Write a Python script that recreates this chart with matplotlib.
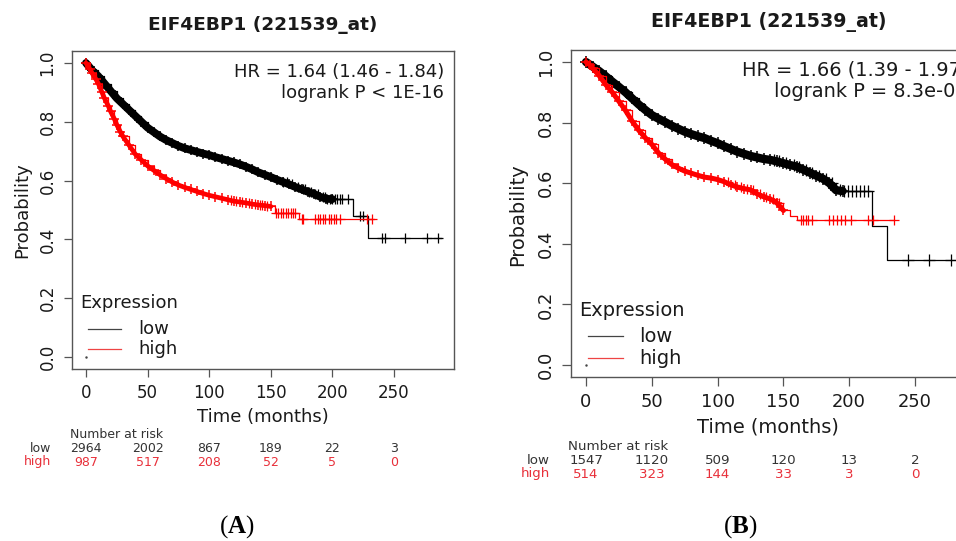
import numpy as np
import matplotlib
matplotlib.use("Agg")
import matplotlib.pyplot as plt
from matplotlib.lines import Line2D
from matplotlib.transforms import blended_transform_factory

plt.rcParams['font.family'] = ['DejaVu Sans']
plt.rcParams['mathtext.fontset'] = 'custom'
plt.rcParams['mathtext.rm'] = 'Liberation Serif'
plt.rcParams['mathtext.bf'] = 'Liberation Serif:bold'

# ---------------- data ----------------
title = "EIF4EBP1 (221539_at)"
risk_times = [0, 50, 100, 150, 200, 250]

# Panel A
a_low_t = [0, 3, 5, 10, 15, 20, 25, 30, 35, 40, 45, 50, 55, 60, 65, 70, 75, 80, 85, 90, 95,
           100, 105, 110, 115, 120, 125, 130, 135, 140, 145, 150, 155, 160, 165, 170, 175,
           180, 185, 190, 195, 200, 205, 210, 217, 229, 288]
a_low_s = [1.0, 0.985, 0.975, 0.955, 0.93, 0.905, 0.88, 0.86, 0.84, 0.82, 0.80, 0.78, 0.765,
           0.75, 0.738, 0.728, 0.718, 0.71, 0.704, 0.698, 0.692, 0.687, 0.68, 0.674, 0.668,
           0.662, 0.655, 0.647, 0.638, 0.628, 0.62, 0.612, 0.603, 0.595, 0.587, 0.578, 0.57,
           0.562, 0.555, 0.545, 0.538, 0.537, 0.537, 0.537, 0.48, 0.405, 0.405]
a_low_cens = [160, 163, 167, 172, 176, 178, 181, 183, 186, 188, 192, 194, 196, 198, 200, 202,
              204, 206, 208, 213, 222, 225, 240, 243, 259, 277, 286]

a_high_t = [0, 3, 5, 8, 10, 13, 15, 18, 20, 23, 25, 28, 30, 35, 40, 45, 50, 55, 60, 65, 70,
            75, 80, 85, 90, 95, 100, 105, 110, 115, 120, 125, 130, 135, 140, 145, 150, 153,
            173, 234]
a_high_s = [1.0, 0.98, 0.965, 0.945, 0.93, 0.90, 0.88, 0.855, 0.835, 0.81, 0.79, 0.765, 0.75,
            0.72, 0.69, 0.67, 0.65, 0.635, 0.62, 0.607, 0.595, 0.585, 0.577, 0.57, 0.563,
            0.556, 0.55, 0.545, 0.54, 0.535, 0.53, 0.527, 0.524, 0.52, 0.517, 0.515, 0.512,
            0.49, 0.468, 0.468]
a_high_cens = [118, 122, 127, 132, 137, 141, 143, 147, 154, 156, 158, 160, 162, 164, 166, 168,
               170, 175, 176, 186, 188, 190, 192, 194, 197, 199, 201, 203, 206, 228, 232]

a_hr = "HR = 1.64 (1.46 - 1.84)"
a_p = "logrank P < 1E-16"
a_risk_low = ["2964", "2002", "867", "189", "22", "3"]
a_risk_high = ["987", "517", "208", "52", "5", "0"]

# Panel B
b_low_t = [0, 5, 10, 15, 20, 25, 30, 35, 40, 45, 50, 55, 60, 65, 70, 75, 80, 85, 90, 95, 100,
           105, 110, 115, 120, 125, 130, 135, 140, 145, 150, 155, 160, 165, 170, 175, 180,
           185, 190, 195, 217, 229, 290]
b_low_s = [1.0, 0.985, 0.97, 0.953, 0.935, 0.918, 0.9, 0.88, 0.86, 0.842, 0.825, 0.813, 0.802,
           0.79, 0.78, 0.77, 0.762, 0.755, 0.749, 0.74, 0.732, 0.722, 0.713, 0.704, 0.697,
           0.69, 0.685, 0.68, 0.677, 0.672, 0.666, 0.66, 0.655, 0.645, 0.635, 0.625, 0.615,
           0.60, 0.577, 0.574, 0.46, 0.347, 0.347]
b_low_cens = [143, 147, 152, 158, 162, 167, 172, 177, 182, 187, 193, 196, 199, 202, 205, 208,
              211, 214, 245, 261, 277, 288]

b_high_t = [0, 3, 5, 10, 15, 20, 25, 30, 35, 40, 45, 50, 55, 60, 65, 70, 75, 80, 85, 90, 95,
            100, 105, 110, 115, 120, 125, 130, 135, 140, 145, 150, 155, 160, 234]
b_high_s = [1.0, 0.99, 0.98, 0.955, 0.925, 0.9, 0.87, 0.84, 0.805, 0.775, 0.75, 0.728, 0.70,
            0.68, 0.662, 0.65, 0.64, 0.633, 0.626, 0.62, 0.617, 0.612, 0.605, 0.595, 0.587,
            0.582, 0.578, 0.565, 0.555, 0.548, 0.535, 0.51, 0.492, 0.478, 0.478]
b_high_cens = [108, 113, 118, 122, 127, 132, 137, 142, 147, 163, 165, 167, 169, 172, 185, 188,
               191, 194, 197, 201, 214, 218, 234]

b_hr = "HR = 1.66 (1.39 - 1.97)"
b_p = "logrank P = 8.3e-09"
b_risk_low = ["1547", "1120", "509", "120", "13", "2"]
b_risk_high = ["514", "323", "144", "33", "3", "0"]

# ---------------- drawing ----------------
W, H = 956, 541
fig = plt.figure(figsize=(W / 100, H / 100), dpi=100)

RED = '#ff0000'
RISK_RED = '#e8303a'
FRAME = '#555555'
TXT = '#1a1a1a'


def fx(x):
    return x / W


def fy(y):
    return 1 - y / H


def px_axes(l, r, t, b):
    return fig.add_axes([l / W, 1 - b / H, (r - l) / W, (b - t) / H])


def surv_at(t_arr, s_arr, tc):
    t_arr = np.asarray(t_arr)
    s_arr = np.asarray(s_arr)
    idx = np.searchsorted(t_arr, tc, side='right') - 1
    return s_arr[idx]


def km(ax, t, s, cens, color, dense_end, band_lw, ms):
    t = np.asarray(t)
    s = np.asarray(s)
    ax.plot(t, s, drawstyle='steps-post', color=color, lw=0.9, zorder=3)
    m = t <= dense_end
    ax.plot(t[m], s[m], color=color, lw=band_lw, solid_capstyle='round', zorder=3)
    ax.plot(t[m], s[m], ls='none', marker='+', color=color, ms=ms, mew=1.1, zorder=3)
    cens = np.asarray(cens)
    ax.plot(cens, surv_at(t, s, cens), ls='none', marker='+', color=color, ms=ms, mew=0.9,
            zorder=3)


def panel(ax, sc, low, high, hr, p, title_xy, xlabel_xy, ylabel_xy, leg):
    fs = 13 * sc
    ax.set_xlim(-11.5, 298.5)
    ax.set_ylim(-0.04, 1.04)
    for sp in ax.spines.values():
        sp.set_color(FRAME)
        sp.set_linewidth(1.0)
    ax.set_xticks(risk_times)
    ax.set_yticks([0, 0.2, 0.4, 0.6, 0.8, 1.0])
    ax.set_yticklabels(['0.0', '0.2', '0.4', '0.6', '0.8', '1.0'], rotation=90, va='center')
    ax.tick_params(direction='out', length=6 * sc, width=0.9, color=FRAME, labelsize=12 * sc,
                   labelcolor=TXT)
    ax.tick_params(axis='x', pad=5 * sc)
    ax.tick_params(axis='y', pad=5 * sc)
    km(ax, *low, 'black', 200, 5.6 * sc, 7.5 * sc)
    km(ax, *high, RED, 150, 3.4 * sc, 7.0 * sc)
    ax.plot([0], [0], ls='none', marker='.', ms=1.5, color='#444444')
    # HR text
    blend_r = blended_transform_factory(ax.transAxes, fig.transFigure)
    ax.text(0.974, fy(title_xy[2][0]), hr, transform=blend_r, ha='right', va='center',
            fontsize=fs, color=TXT, clip_on=False)
    ax.text(0.974, fy(title_xy[2][1]), p, transform=blend_r, ha='right', va='center',
            fontsize=fs, color=TXT, clip_on=False)
    # title
    fig.text(fx(title_xy[0]), fy(title_xy[1]), title, ha='center', va='center',
             fontsize=title_xy[3], fontweight='bold', color=TXT)
    # axis labels
    fig.text(fx(xlabel_xy[0]), fy(xlabel_xy[1]), 'Time (months)', ha='center', va='center',
             fontsize=fs, color=TXT)
    fig.text(fx(ylabel_xy[0]), fy(ylabel_xy[1]), 'Probability', ha='center', va='center',
             rotation=90, fontsize=fs, color=TXT)
    # legend (manual, R style)
    tx, ty, lx0, lx1, y_low, y_high, txt_x = leg
    fig.text(fx(tx), fy(ty), 'Expression', ha='left', va='center', fontsize=fs, color=TXT)
    fig.add_artist(Line2D([fx(lx0), fx(lx1)], [fy(y_low), fy(y_low)], color='#444444',
                          lw=0.9, transform=fig.transFigure))
    fig.add_artist(Line2D([fx(lx0), fx(lx1)], [fy(y_high), fy(y_high)], color='#ee4444',
                          lw=0.9, transform=fig.transFigure))
    fig.text(fx(txt_x), fy(y_low), 'low', ha='left', va='center', fontsize=fs, color=TXT)
    fig.text(fx(txt_x), fy(y_high), 'high', ha='left', va='center', fontsize=fs, color=TXT)


def risk_table(ax, sc, risk_low, risk_high, rows_y, label_x, head_x):
    fs = 9 * sc
    blend = blended_transform_factory(ax.transData, fig.transFigure)
    fig.text(fx(head_x), fy(rows_y[0]), 'Number at risk', ha='center', va='center',
             fontsize=fs, color='#333333')
    fig.text(fx(label_x), fy(rows_y[1]), 'low', ha='right', va='center', fontsize=fs,
             color='#333333')
    fig.text(fx(label_x), fy(rows_y[2]), 'high', ha='right', va='center', fontsize=fs,
             color=RISK_RED)
    for tt, lo, hi in zip(risk_times, risk_low, risk_high):
        ax.text(tt, fy(rows_y[1]), lo, transform=blend, ha='center', va='center',
                fontsize=fs, color='#333333', clip_on=False)
        ax.text(tt, fy(rows_y[2]), hi, transform=blend, ha='center', va='center',
                fontsize=fs, color=RISK_RED, clip_on=False)


# Panel A axes
axA = px_axes(71.8, 453.8, 51.2, 368.8)
panel(axA, 1.0, (a_low_t, a_low_s, a_low_cens), (a_high_t, a_high_s, a_high_cens),
      a_hr, a_p, (263, 25, (72, 93), 13.3), (263, 417), (22, 210),
      (80, 303, 88, 121, 329, 349, 138))
risk_table(axA, 1.0, a_risk_low, a_risk_high, (435, 449, 462), 51, 117)

# Panel B axes (extends beyond the right edge of the figure)
axB = px_axes(570.9, 978.8, 49.9, 377.1)
panel(axB, 1.07, (b_low_t, b_low_s, b_low_cens), (b_high_t, b_high_s, b_high_cens),
      b_hr, b_p, (769, 22, (70, 92), 13.7), (768, 427), (518, 215),
      (579, 310, 588, 623, 336, 358, 639))
risk_table(axB, 1.07, b_risk_low, b_risk_high, (446, 460, 474), 550, 618)

# panel labels
fig.text(fx(237), fy(527), r'($\mathbf{A}$)', ha='center', va='center', fontsize=18,
         family='Liberation Serif', color='black')
fig.text(fx(740), fy(527), r'($\mathbf{B}$)', ha='center', va='center', fontsize=18,
         family='Liberation Serif', color='black')

fig.savefig('out.png', dpi=100)
